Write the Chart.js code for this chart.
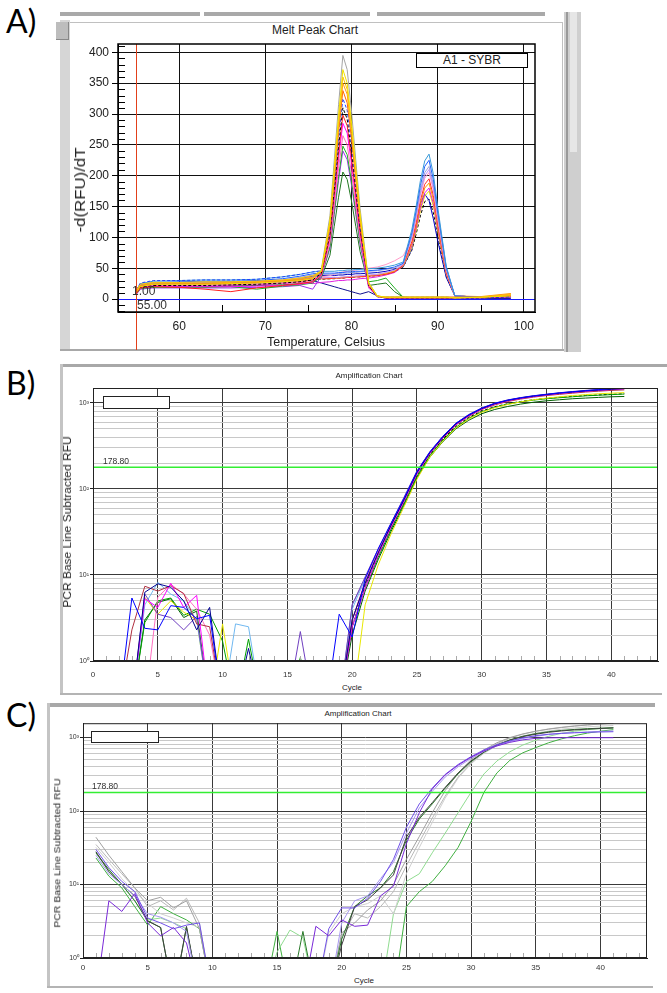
<!DOCTYPE html>
<html><head><meta charset="utf-8">
<script src="https://cdn.jsdelivr.net/npm/chart.js@4.4.0/dist/chart.umd.min.js"></script>
<style>
html,body{margin:0;padding:0;background:#fff}
body{width:667px;height:993px;position:relative;overflow:hidden;font-family:'Liberation Sans',Arial,sans-serif;color:#222}
.a{position:absolute}
.pl{position:absolute;font-family:Lato,'Open Sans',sans-serif;font-size:32px;line-height:1;color:#000}
.rot{position:absolute;white-space:nowrap;line-height:1}
canvas{position:absolute}
</style></head><body>

<!-- ===== Panel A frame ===== -->
<div class="pl" style="left:6px;top:5px">A)</div>
<div class="a" style="left:60px;top:12px;width:140px;height:4px;background:#a9a9a9"></div>
<div class="a" style="left:204px;top:12px;width:166px;height:4px;background:#a9a9a9"></div>
<div class="a" style="left:377px;top:12px;width:168px;height:4px;background:#a9a9a9"></div>
<div class="a" style="left:60px;top:20px;width:10px;height:330px;background:#d6d6d6"></div>
<div class="a" style="left:56px;top:22px;width:12px;height:17px;background:#bdbdbd;border-right:1px solid #888;border-bottom:1px solid #888"></div>
<div class="a" style="left:70px;top:22px;width:492px;height:1px;background:#c0c0c0"></div>
<div class="a" style="left:562px;top:22px;width:1px;height:328px;background:#c0c0c0"></div>
<div class="a" style="left:60px;top:349px;width:507px;height:2px;background:#a8a8a8"></div>
<div class="a" style="left:564px;top:12px;width:17px;height:340px;background:#cfcfcf"></div>
<div class="a" style="left:566px;top:12px;width:2px;height:340px;background:#9a9a9a"></div>
<div class="a" style="left:570px;top:12px;width:7px;height:140px;background:#e6e6e6"></div>
<div class="a" style="left:255px;top:23px;width:120px;text-align:center;font-size:12px;line-height:14px;color:#222">Melt Peak Chart</div>

<canvas id="chartA" width="485" height="324" style="left:62px;top:32px"></canvas>

<div class="rot" style="left:80px;top:190px;font-size:14px;transform:translate(-50%,-50%) rotate(-90deg) scaleX(1.2)">-d(RFU)/dT</div>
<div class="rot" style="left:326px;top:342px;font-size:12.5px;transform:translate(-50%,-50%)">Temperature, Celsius</div>
<div class="a" style="left:416px;top:53px;width:110px;height:13px;border:1.5px solid #000;background:#fff;text-align:center;font-size:12px;line-height:13px;color:#222">A1 - SYBR</div>
<div class="a" style="left:132px;top:285px;font-size:12px;line-height:12px;color:#333">1.00</div>
<div class="a" style="left:137px;top:299px;font-size:12px;line-height:12px;color:#333">55.00</div>

<!-- ===== Panel B frame ===== -->
<div class="pl" style="left:6px;top:367px">B)</div>
<div class="a" style="left:60px;top:364px;width:607px;height:3px;background:#a8a8a8"></div>
<div class="a" style="left:60px;top:364px;width:3px;height:331px;background:#c4c4c4"></div>
<div class="a" style="left:60px;top:693px;width:602px;height:2px;background:#b4b4b4"></div>
<div class="a" style="left:319px;top:371px;width:100px;text-align:center;font-size:8px;line-height:10px;color:#222">Amplification Chart</div>

<canvas id="chartB" width="600" height="300" style="left:62px;top:382px"></canvas>

<div class="rot" style="left:68px;top:522px;font-size:10px;transform:translate(-50%,-50%) rotate(-90deg) scaleX(1.2)">PCR Base Line Subtracted RFU</div>
<div class="a" style="left:322px;top:683px;width:60px;text-align:center;font-size:8px;line-height:10px">Cycle</div>
<div class="a" style="left:103px;top:396px;width:65px;height:11px;border:1px solid #222;background:#fff"></div>

<!-- ===== Panel C frame ===== -->
<div class="pl" style="left:6px;top:699px">C)</div>
<div class="a" style="left:47px;top:703px;width:608px;height:4px;background:#a8a8a8"></div>
<div class="a" style="left:47px;top:703px;width:3px;height:285px;background:#c4c4c4"></div>
<div class="a" style="left:47px;top:986px;width:606px;height:2px;background:#b4b4b4"></div>
<div class="a" style="left:308px;top:709px;width:100px;text-align:center;font-size:8px;line-height:10px;color:#222">Amplification Chart</div>

<canvas id="chartC" width="600" height="258" style="left:50px;top:718px"></canvas>

<div class="rot" style="left:57px;top:853px;font-size:9.5px;transform:translate(-50%,-50%) rotate(-90deg) scaleX(1.1)">PCR Base Line Subtracted RFU</div>
<div class="a" style="left:334px;top:976px;width:60px;text-align:center;font-size:8px;line-height:10px">Cycle</div>
<div class="a" style="left:91px;top:731px;width:66px;height:10px;border:1px solid #222;background:#fff"></div>

<script>
// ================= DATA =================
// Panel A: melt peak, temperature grid (°C)
const TEMP = [55,55.5,57,60,63,66,69,72,74,75.5, 76.5,77.5,78,78.5,79,79.5,80,80.5,81,82, 83,84,85,86,87,87.5,88,88.5,89,89.5, 90,90.5,91,92,95,98.5];
const A_XTICKS = [60,70,80,90,100];
const A_YTICKS = [0,50,100,150,200,250,300,350,400];
const A_CURSOR_T = 55;
const A_BASE = 0;

// peak ~79 °C
const M_GRAY      = [12,22,25,25,26,27,28,30,33,36, 48,135,225,315,395,372,305,225,147,27, 5,3,3,3,3,3,3,3,3,3,3,3,3,2,3,6];
const M_YELLOW    = [10,20,24,24,24,25,26,28,30,33, 46,128,212,298,372,350,287,213,138,26, 5,3,3,3,3,3,3,3,3,3,3,3,3,2,3,5];
const M_GOLD      = [14,24,27,27,28,28,29,31,34,38, 45,124,206,288,360,340,278,206,134,25, 4,3,3,3,3,3,3,3,3,3,3,3,3,2,3,7];
const M_ORANGE    = [12,22,26,26,26,27,28,30,32,35, 45,120,200,280,350,332,270,200,130,25, 5,3,3,3,3,3,3,3,3,3,3,3,3,3,3,8];
const M_DKORANGE  = [11,21,24,25,25,25,27,29,31,34, 44,116,194,270,338,318,260,193,126,24, 5,2,2,2,2,2,2,2,2,2,2,2,2,2,3,6];
const M_BLUEDASH  = [15,26,30,30,31,31,32,36,40,44, 46,112,186,260,325,306,251,186,121,23, 4,3,3,3,3,3,3,3,3,3,3,3,3,2,2,4];
const M_BLACKDASH = [10,19,22,22,22,23,24,26,28,31, 42,106,177,248,310,292,239,177,115,22, 4,2,2,2,2,2,2,2,2,2,2,2,2,2,2,4];
const M_RED       = [8,18,20,19,16,12,18,22,25,28, 40,102,170,238,298,281,230,170,111,21, 4,3,3,3,3,3,3,3,3,3,3,3,3,3,3,5];
const M_MAGENTA   = [9,18,21,20,20,20,21,22,24,27, 40,98,163,228,285,269,220,163,106,20, 4,2,2,2,2,2,2,2,2,2,2,2,2,2,2,4];
const M_PINK      = [10,20,22,22,23,23,24,26,27,30, 38,91,151,212,265,250,204,151,98,19, 4,2,2,2,2,2,2,2,2,2,2,2,2,2,2,4];
const M_GREEN     = [8,17,19,19,19,20,16,21,23,26, 38,85,142,198,248,234,191,142,92,28, 30,34,18,3,2,2,2,2,2,2,2,2,2,2,2,4];
const M_PURPLE    = [7,16,18,18,18,18,19,20,22,16, 37,82,137,192,240,226,185,137,89,18, 4,2,2,2,2,2,2,2,2,2,2,2,2,2,2,3];
const M_DKGREEN   = [9,18,20,20,20,21,22,23,25,28, 35,71,118,165,206,194,159,118,77,22, 24,26,12,3,2,2,2,2,2,2,2,2,2,2,2,3];
// peak ~89 °C
const P_LTBLUE    = [13,25,29,30,31,31,32,36,40,44, 45,45,45,46,46,47,47,48,48,49,50,52,55, 60,112,150,192,224,235,203,150,101,53,5, 3,6];
const P_BLUE      = [12,23,27,28,29,29,30,33,37,41, 42,42,42,43,43,44,44,45,45,46,47,49,52, 58,107,143,184,215,225,194,143,97,51,5, 3,5];
const P_LAVENDER  = [11,22,26,27,27,28,29,31,35,39, 40,40,41,41,42,42,43,43,44,45,46,48,50, 57,103,137,176,205,215,186,137,93,49,5, 3,6];
const P_LTPURPLE  = [9,19,22,23,23,24,25,27,30,33, 34,35,35,35,36,36,37,37,38,39,40,43,47, 56,100,134,172,200,210,181,134,91,48,5, 3,5];
const P_PINK      = [10,20,23,24,24,25,26,28,31,34, 36,38,40,42,44,45,46,47,48,50,52,56,62, 70,98,130,168,196,205,177,130,89,47,5, 3,6];
const P_RED       = [9,19,22,22,23,24,25,27,29,32, 33,33,34,34,34,35,35,36,36,37,38,40,44, 55,93,124,160,186,195,168,124,84,44,5, 3,5];
const P_ORANGE    = [10,20,23,24,24,25,26,28,30,33, 34,34,35,35,35,36,36,37,37,38,40,42,46, 54,90,120,154,180,188,162,120,81,43,5, 4,9];
const P_MAGENTA   = [8,18,21,21,21,22,23,25,27,25, 27,28,29,30,30,31,31,32,33,34,36,39,43, 54,86,115,147,172,180,155,115,78,41,5, 3,5];
const P_YELLOW    = [10,20,23,23,24,24,25,27,29,32, 33,33,34,34,35,35,36,36,37,38,39,41,45, 53,83,111,143,167,175,151,111,76,40,5, 3,6];
const P_NAVY      = [11,22,25,26,26,27,28,30,33,37, 38,38,38,39,39,40,40,41,41,42,43,45,48, 52,81,115,155,170,160,130,95,65,35,5, 3,4];
const P_BLACKDASH = [9,19,22,22,23,23,24,26,28,31, 32,33,33,34,34,35,35,36,36,37,38,40,44, 52,79,105,135,158,162,140,103,70,37,5, 3,4];
const NTC         = [10,20,23,24,25,25,26,28,30,30, 26,22,20,18,16,14,12,10,8,12, 5,1,1,1,1,1,1,1,1,1,1,1,1,1,1,1];

// Panels B, C: amplification, cycles
const CYCLES = [1,2,3,4,5,6,7,8,9,10,11,12,13,14,15,16,17,18,19,20,21,22,23,24,25,26,27,28,29,30,31,32,33,34,35,36,37,38,39,40,41];
const AMP_XTICKS = [0,5,10,15,20,25,30,35,40];
const AMP_YGRID = [1,2,3,4,5,6,7,8,9,10,20,30,40,50,60,70,80,90,100,200,300,400,500,600,700,800,900,1000];
const THRESHOLD = 178.80;

const B_BLUE    = [0.3,0.3,5.4,2.4,2.3,4.4,4.2,3.1,3.4,0.3, 0.3,0.3,0.3,0.3,0.3,0.3,0.3,0.3,3.5,1.9, 9,20,40,78,160,270,410,580,730,870, 990,1080,1150,1210,1260,1310,1350,1390,1430,1470, 1500];
const B_NAVY    = [0.3,0.3,0.3,6.3,7.9,7.2,5,2.3,4.2,0.3, 0.3,1.4,0.3,0.3,0.3,0.3,0.3,0.3,0.3,3, 8,18,38,75,155,265,400,570,720,860, 980,1070,1140,1200,1250,1300,1340,1380,1410,1440, 1470];
const B_MAGENTA = [0.3,0.3,0.3,5.3,4.2,8,4.2,5.8,0.3,0.3, 0.3,0.3,0.3,0.3,0.3,0.3,0.3,0.3,0.3,2.5, 7,17,36,72,150,260,395,560,710,850, 970,1060,1130,1190,1240,1290,1330,1370,1400,1430, 1460];
const B_BROWN   = [0.3,0.3,2.3,7.4,6.5,7.5,6.1,2.7,2.5,0.3, 0.3,0.3,0.3,0.3,0.3,0.3,0.3,0.3,0.3,3, 8,18,37,73,150,258,390,555,700,840, 950,1040,1110,1170,1220,1260,1300,1340,1370,1400, 1420];
const B_GREEN   = [0.3,0.3,0.3,2.8,5,5.4,3.4,4,3.5,1.7, 0.3,1.8,0.3,0.3,0.3,1.1,0.3,0.3,0.3,2.5, 7,16,34,68,140,245,370,520,660,790, 890,970,1030,1080,1120,1150,1180,1210,1230,1250, 1270];
const B_DKGREEN = [0.3,0.3,0.3,3,4.8,5.3,3.2,3.8,0.3,0.3, 0.3,0.3,0.3,0.3,0.3,0.3,0.3,0.3,0.3,2, 6.5,15,32,65,135,235,355,500,630,750, 840,910,970,1020,1060,1090,1120,1140,1160,1180, 1190];
const B_YELLOW  = [0.3,0.3,0.3,5.5,3.5,5,3.7,3,0.3,2.7, 0.3,0.3,0.3,0.3,0.3,0.3,0.3,0.3,0.3,0.3, 4.5,13,30,62,130,235,360,510,650,780, 880,960,1030,1090,1140,1180,1220,1250,1280,1300, 1320];
const B_LTBLUE  = [0.3,0.3,0.3,4.5,8.2,6,5,3,0.3,0.3, 2.7,2.5,0.3,0.3,0.3,0.3,0.3,0.3,0.3,4, 9,19,39,77,158,268,405,575,725,865, 985,1075,1145,1205,1255,1300,1340,1375,1410,1440, 1470];
const B_PURPLE  = [0.3,0.3,0.3,6,3.5,3.2,2.3,3.3,0.3,0.3, 0.3,0.3,0.3,0.3,0.3,2.2,0.3,0.3,0.3,4.5, 9.5,20,40,80,162,272,410,580,735,875, 995,1085,1155,1215,1265,1315,1360,1400,1440,1470, 1490];
const B_PINK    = [0.3,0.3,0.3,0.3,5.5,7.8,6,4,2,0.3, 0.3,0.3,0.3,0.3,0.3,0.3,0.3,0.3,0.3,3, 8.5,19,38,76,155,262,398,565,715,855, 975,1065,1135,1195,1245,1295,1335,1375,1410,1440, 1470];
const B_GRAY    = [0.3,0.3,0.3,0.3,0.3,0.3,0.3,0.3,0.3,0.3, 0.3,0.3,0.3,0.3,0.3,0.3,0.3,0.3,0.3,4.5, 9,19,38,76,156,266,402,572,722,862, 982,1072,1142,1202,1252,1302,1345,1385,1420,1455, 1485];
const B_BLACK   = [0.3,0.3,0.3,0.3,0.3,0.3,0.3,0.3,0.3,0.3, 0.3,0.3,0.3,0.3,0.3,0.3,0.3,0.3,0.3,2.5, 7.5,17,35,70,143,250,380,535,680,805, 905,980,1040,1090,1130,1165,1195,1220,1240,1260, 1280];

const C_GRAY     = [44,25,15,9,6,6.7,4.8,6,2.5,0.3, 0.3,0.3,0.3,0.3,0.3,0.3,0.3,0.3,0.3,2.2, 3,4.5,6,10,22,45,95,190,330,500, 680,850,1000,1120,1220,1300,1370,1430,1480,1530, 1570];
const C_LTGRAY   = [32,20,12,8,5.5,4,3.5,3,2.6,0.3, 0.3,0.3,0.3,0.3,0.3,0.3,0.3,0.3,2.2,4, 5,5.5,7,4,14,32,70,150,280,440, 610,780,930,1050,1150,1230,1300,1350,1400,1430, 1460];
const C_MIDGRAY  = [35,22,14,9,5,6,4.5,6.5,3,0.3, 0.3,0.3,0.3,0.3,0.3,0.3,0.3,0.3,0.3,2, 4,3.5,5,8,18,38,80,160,290,450, 640,820,980,1110,1220,1310,1380,1440,1490,1530, 1560];
const C_DARK     = [28,15,10,7,3.2,2.6,0.3,2.7,0.3,0.3, 0.3,0.3,0.3,0.3,0.3,0.3,0.3,0.3,0.3,1.5, 5,6.2,9,13.5,44,82,130,210,330,480, 640,790,920,1030,1110,1180,1230,1270,1300,1330, 1350];
const C_DKGREEN  = [27,16,10,6,3.2,2.6,0.3,2.6,0.3,0.3, 0.3,0.3,0.3,0.3,0.3,0.3,2.3,0.3,0.3,1.8, 5,7,9,15,40,78,125,205,320,470, 630,790,930,1040,1130,1200,1250,1290,1320,1340, 1360];
const C_PURPLE   = [0.3,6,4.3,7.5,3,2,2.6,1.6,0.3,0.3, 0.3,0.3,0.3,0.3,0.3,0.3,0.3,2.7,2,3.3, 2.7,2.8,7,9.5,36,95,200,310,420,540, 660,770,860,930,975,990,995,995,995,995, 995];
const C_VIOLET   = [30,17,11,8,3.5,3,2.5,2.8,3,0.3, 0.3,0.3,0.3,0.3,0.3,0.3,0.3,0.3,2.5,4.8, 4.8,6.5,11,22,60,125,205,315,430,550, 680,800,900,990,1060,1110,1140,1160,1180,1190, 1200];
const C_LTVIOLET = [25,14,10,7,4,3.6,3,2.3,0.3,0.3, 0.3,0.3,0.3,0.3,0.3,0.3,0.3,0.3,0.3,3, 6,7,12,20,50,110,185,290,400,520, 650,770,880,970,1040,1100,1140,1170,1190,1210, 1230];
const C_GREEN    = [23,13,9,5,2.8,5,4,3.3,2.5,0.3, 0.3,0.3,0.3,0.3,2.3,0.3,0.3,0.3,0.3,0.3, 0.3,0.3,0.3,0.3,5,8,11,18,32,72, 180,330,490,620,730,850,960,1060,1150,1220, 1280];
const C_LTGREEN  = [27,15,10,6,3.3,3.5,3,2.5,0.3,0.3, 0.3,0.3,0.3,0.3,1.2,2.4,1.9,0.3,0.3,0.3, 0.3,0.3,0.3,4,11,14,27,50,95,180, 320,480,640,790,920,1040,1140,1220,1280,1320, 1350];

// ================= STYLE DESCRIPTORS =================
const A_SERIES = [
  {d:M_YELLOW,c:'#f0e000'},{d:M_GOLD,c:'#ffc400'},{d:M_ORANGE,c:'#ff9a1a'},{d:M_DKORANGE,c:'#ff6a00'},
  {d:M_GRAY,c:'#a4a4a4'},{d:M_BLUEDASH,c:'#2040ff',dash:true},{d:M_BLACKDASH,c:'#000000',dash:true},
  {d:M_RED,c:'#ff2020'},{d:M_MAGENTA,c:'#ff00ff'},{d:M_PINK,c:'#ff70b0'},{d:M_GREEN,c:'#20b020'},
  {d:M_PURPLE,c:'#a030f0'},{d:M_DKGREEN,c:'#207820'},
  {d:P_LTBLUE,c:'#3a9ad9'},{d:P_BLUE,c:'#2060ff'},{d:P_LAVENDER,c:'#9ea0d8'},{d:P_LTPURPLE,c:'#c090ff'},
  {d:P_PINK,c:'#ff9ac8'},{d:P_RED,c:'#ff3030'},{d:P_ORANGE,c:'#ff9900'},{d:P_MAGENTA,c:'#e020e0'},
  {d:P_YELLOW,c:'#e8e000'},{d:P_NAVY,c:'#0000c0'},{d:P_BLACKDASH,c:'#000000',dash:true},{d:NTC,c:'#101090'}
];
const B_SERIES = [
  {d:B_BLUE,c:'#0000ff'},{d:B_NAVY,c:'#000090'},{d:B_MAGENTA,c:'#ff00ff'},{d:B_BROWN,c:'#b03040'},
  {d:B_PURPLE,c:'#7040c0'},{d:B_PINK,c:'#ff70c0'},{d:B_LTBLUE,c:'#70b8f0'},{d:B_GRAY,c:'#9090c0'},
  {d:B_YELLOW,c:'#e8e800'},{d:B_GREEN,c:'#00a000'},{d:B_DKGREEN,c:'#006000'},{d:B_BLACK,c:'#000000',dash:true}
];
const C_SERIES = [
  {d:C_PURPLE,c:'#7a2ad8'},{d:C_VIOLET,c:'#7050e8'},{d:C_LTVIOLET,c:'#a898f0'},{d:C_DARK,c:'#404040'},
  {d:C_DKGREEN,c:'#2a7a2a'},{d:C_GRAY,c:'#a0a0a0'},{d:C_MIDGRAY,c:'#b8b8b8'},{d:C_LTGRAY,c:'#cfcfcf'},
  {d:C_LTGREEN,c:'#90dc90'},{d:C_GREEN,c:'#40b040'}
];

// ================= CHARTS =================
Chart.defaults.font.family = "'Liberation Sans', Arial, sans-serif";
Chart.defaults.color = '#222';

function toDatasets(series, xs){
  return series.map(s => ({
    data: xs.map((x,i)=>({x:x, y:s.d[i]})),
    borderColor: s.c, borderWidth: 1, borderDash: s.dash ? [3,2] : [],
    pointRadius: 0, fill: false, tension: 0, borderJoinStyle: 'round'
  }));
}

const aDeco = {
  id:'aDeco',
  afterDatasetsDraw(chart){
    const {ctx, chartArea:a, scales:{x,y}} = chart;
    ctx.save();
    // blue baseline
    const by = Math.round(y.getPixelForValue(A_BASE))+0.5;
    ctx.strokeStyle='#1a1aff'; ctx.lineWidth=1.2;
    ctx.beginPath(); ctx.moveTo(a.left,by); ctx.lineTo(a.right,by); ctx.stroke();
    // minor ticks
    ctx.strokeStyle='#000'; ctx.lineWidth=1; ctx.beginPath();
    for (let v=-20; v<=410; v+=10){ if (v%50===0) continue;
      const py=Math.round(y.getPixelForValue(v))+0.5; ctx.moveTo(a.left,py); ctx.lineTo(a.left+7,py); }
    for (let v=55; v<=95; v+=10){ if (v===A_CURSOR_T) continue;
      const px=Math.round(x.getPixelForValue(v))+0.5; ctx.moveTo(px,a.bottom); ctx.lineTo(px,a.bottom-7); }
    ctx.stroke();
    // red cursor
    const rx = Math.round(x.getPixelForValue(A_CURSOR_T))+0.5;
    ctx.strokeStyle='#e2401a'; ctx.lineWidth=1;
    ctx.beginPath(); ctx.moveTo(rx,a.top); ctx.lineTo(rx,chart.height-6); ctx.stroke();
    // frame
    ctx.strokeStyle='#000'; ctx.lineWidth=1.5; ctx.strokeRect(a.left,a.top,a.width,a.height);
    ctx.restore();
  }
};

new Chart(document.getElementById('chartA'), {
  type:'line',
  data:{datasets: toDatasets(A_SERIES, TEMP)},
  options:{
    responsive:false, animation:false, devicePixelRatio:1,
    layout:{padding:{left:0,right:12,top:12,bottom:0}},
    plugins:{legend:{display:false},tooltip:{enabled:false}},
    scales:{
      x:{type:'linear',min:52.9,max:101.3,
        afterBuildTicks:s=>{s.ticks=A_XTICKS.map(v=>({value:v}));},
        afterFit:s=>{s.height=44;},
        grid:{color:'#111',lineWidth:1,drawTicks:false},
        border:{color:'#000',width:1},
        ticks:{padding:7,color:'#222',font:{size:12},maxRotation:0,autoSkip:false}},
      y:{type:'linear',min:-21,max:413.5,
        afterBuildTicks:s=>{s.ticks=A_YTICKS.map(v=>({value:v}));},
        afterFit:s=>{s.width=56;},
        grid:{color:'#111',lineWidth:1,drawTicks:true,tickLength:6,tickColor:'#000'},
        border:{color:'#000',width:1},
        ticks:{padding:3,color:'#222',font:{size:12},autoSkip:false}}
    }
  },
  plugins:[aDeco]
});

const SUP = ['\u2070','\u00b9','\u00b2','\u00b3'];
const isDecade = v => Math.abs(Math.log10(v)-Math.round(Math.log10(v)))<1e-9;

function ampDeco(labelDx){
  return {
    id:'ampDeco',
    afterDatasetsDraw(chart){
      const {ctx, chartArea:a, scales:{x,y}} = chart;
      ctx.save();
      ctx.strokeStyle='#aaaaaa'; ctx.lineWidth=1; ctx.beginPath();
      for (let c=1;c<=43;c++){ if (c%5===0) continue;
        const px=Math.round(x.getPixelForValue(c))+0.5; ctx.moveTo(px,a.bottom); ctx.lineTo(px,a.bottom-5); }
      ctx.stroke();
      const ty = y.getPixelForValue(THRESHOLD);
      ctx.strokeStyle='#33ee33'; ctx.lineWidth=1.5;
      ctx.beginPath(); ctx.moveTo(a.left,ty); ctx.lineTo(a.right,ty); ctx.stroke();
      ctx.fillStyle='#333'; ctx.font="8.5px 'Liberation Sans', Arial, sans-serif"; ctx.textBaseline='alphabetic';
      ctx.fillText(THRESHOLD.toFixed(2), a.left+labelDx, ty-3);
      ctx.strokeStyle='#222'; ctx.lineWidth=1; ctx.strokeRect(a.left+0.5,a.top+0.5,a.width-1,a.height-1);
      ctx.restore();
    }
  };
}

function ampChart(id, series, yMax, yAxisW, xAxisH, padTop, padRight, tickPad, labelDx){
  return new Chart(document.getElementById(id), {
    type:'line',
    data:{datasets: toDatasets(series, CYCLES)},
    options:{
      responsive:false, animation:false, devicePixelRatio:1,
      layout:{padding:{left:0,right:padRight,top:padTop,bottom:0}},
      plugins:{legend:{display:false},tooltip:{enabled:false}},
      scales:{
        x:{type:'linear',min:0,max:43.6,
          afterBuildTicks:s=>{s.ticks=AMP_XTICKS.map(v=>({value:v}));},
          afterFit:s=>{s.height=xAxisH;},
          grid:{color:'#3a3a3a',lineWidth:1,drawTicks:false},
          border:{color:'#222',width:1},
          ticks:{padding:tickPad,color:'#333',font:{size:8},maxRotation:0,autoSkip:false}},
        y:{type:'logarithmic',min:1,max:yMax,
          afterBuildTicks:s=>{s.ticks=AMP_YGRID.map(v=>({value:v}));},
          afterFit:s=>{s.width=yAxisW;},
          grid:{color:c=>isDecade(c.tick.value)?'#3a3a3a':'#c8c8c8',lineWidth:1,drawTicks:true,tickLength:3,
                tickColor:c=>isDecade(c.tick.value)?'#222':'rgba(0,0,0,0)'},
          border:{color:'#222',width:1},
          ticks:{padding:1,color:'#333',font:{size:7},autoSkip:false,
                 callback:v=>isDecade(v)?'10'+SUP[Math.round(Math.log10(v))]:''}}
      }
    },
    plugins:[ampDeco(labelDx)]
  });
}

ampChart('chartB', B_SERIES, 1493, 31, 21, 6, 4, 9, 10);
ampChart('chartC', C_SERIES, 1567, 33, 18, 5, 3, 5, 9);
</script>
</body></html>
